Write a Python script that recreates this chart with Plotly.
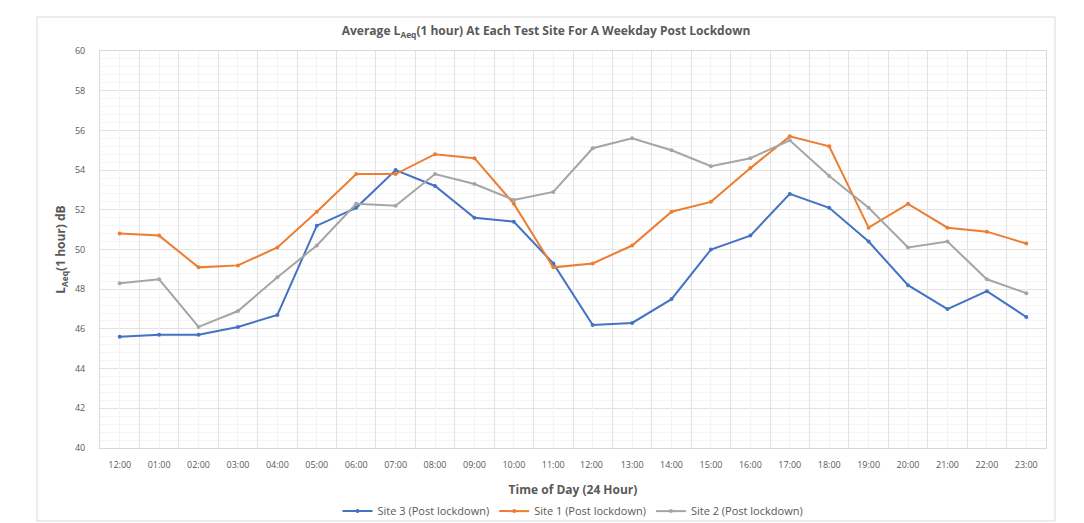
import plotly.graph_objects as go

hours = ["12:00", "01:00", "02:00", "03:00", "04:00", "05:00", "06:00", "07:00",
         "08:00", "09:00", "10:00", "11:00", "12:00 ", "13:00", "14:00", "15:00",
         "16:00", "17:00", "18:00", "19:00", "20:00", "21:00", "22:00", "23:00"]

site3 = [45.6, 45.7, 45.7, 46.1, 46.7, 51.2, 52.1, 54.0, 53.2, 51.6, 51.4, 49.3,
         46.2, 46.3, 47.5, 50.0, 50.7, 52.8, 52.1, 50.4, 48.2, 47.0, 47.9, 46.6]
site1 = [50.8, 50.7, 49.1, 49.2, 50.1, 51.9, 53.8, 53.8, 54.8, 54.6, 52.3, 49.1,
         49.3, 50.2, 51.9, 52.4, 54.1, 55.7, 55.2, 51.1, 52.3, 51.1, 50.9, 50.3]
site2 = [48.3, 48.5, 46.1, 46.9, 48.6, 50.2, 52.3, 52.2, 53.8, 53.3, 52.5, 52.9,
         55.1, 55.6, 55.0, 54.2, 54.6, 55.5, 53.7, 52.1, 50.1, 50.4, 48.5, 47.8]

series = [
    ("Site 3 (Post lockdown)", site3, "#4472C4"),
    ("Site 1 (Post lockdown)", site1, "#ED7D31"),
    ("Site 2 (Post lockdown)", site2, "#A5A5A5"),
]

FONT = "Open Sans"
TXT = "#595959"
n = len(hours)

# page body has an 8px margin, so the figure is 8px smaller and margins shifted
W, H = 1076, 515
L, R, T, B = 92, 38, 43, 75

fig = go.Figure()
for name, vals, col in series:
    fig.add_trace(go.Scatter(
        x=hours, y=vals, name=name, mode="lines+markers",
        line=dict(color=col, width=2),
        marker=dict(color=col, size=4),
    ))

# invisible helper trace on overlay axis for light minor vertical grid
fig.add_trace(go.Scatter(x=[0], y=[50], xaxis="x2", showlegend=False,
                         mode="markers", marker=dict(opacity=0), hoverinfo="skip"))

fig.update_layout(
    width=W, height=H,
    paper_bgcolor="white", plot_bgcolor="white",
    margin=dict(l=L, r=R, t=T, b=B, autoexpand=False),
    font=dict(family=FONT, color=TXT),
    title=dict(
        text="<b>Average L<sub>Aeq</sub>(1 hour) At Each Test Site For A Weekday Post Lockdown</b>",
        x=0.5, xanchor="center", y=1 - 23 / H, yanchor="middle",
        font=dict(size=12, color=TXT, family=FONT),
    ),
    xaxis=dict(
        type="category", tickson="boundaries", range=[-0.5, n - 0.5], autorange=False,
        showgrid=True, gridcolor="#e3e3e3", gridwidth=1,
        ticks="", tickfont=dict(size=9, color=TXT),
        ticklabelstandoff=8, automargin=False,
        showline=True, linecolor="#d9d9d9", mirror=True,
        title=dict(text="<b>Time of Day (24 Hour)</b>", font=dict(size=12, color=TXT), standoff=15),
    ),
    xaxis2=dict(
        overlaying="x", range=[-0.5, n - 0.5], autorange=False, dtick=1, tick0=0,
        showgrid=True, gridcolor="#f3f3f3", showticklabels=False,
        zeroline=False, ticks="", automargin=False,
    ),
    yaxis=dict(
        range=[40, 60], dtick=2, tick0=40, autorange=False,
        showgrid=True, gridcolor="#e3e3e3", gridwidth=1,
        minor=dict(dtick=0.4, showgrid=True, gridcolor="#f4f4f4"),
        zeroline=False, ticks="", tickfont=dict(size=9, color=TXT),
        ticklabelstandoff=12, automargin=False,
        showline=True, linecolor="#d9d9d9", mirror=True,
        title=dict(text="<b>L<sub>Aeq</sub>(1 hour) dB</b>", font=dict(size=12, color=TXT), standoff=6),
    ),
    legend=dict(
        orientation="h", x=0.5, xanchor="center", y=-0.159, yanchor="middle",
        font=dict(size=11, color=TXT), bgcolor="rgba(0,0,0,0)",
        itemwidth=30, tracegroupgap=0,
    ),
    shapes=[dict(
        type="rect", xref="paper", yref="paper",
        x0=(37 - 100) / 946, x1=(1055 - 100) / 946,
        y0=(448 - 521) / 397, y1=(448 - 17) / 397,
        line=dict(color="#d9d9d9", width=1), layer="below",
    )],
)

fig.write_html("out.html")
